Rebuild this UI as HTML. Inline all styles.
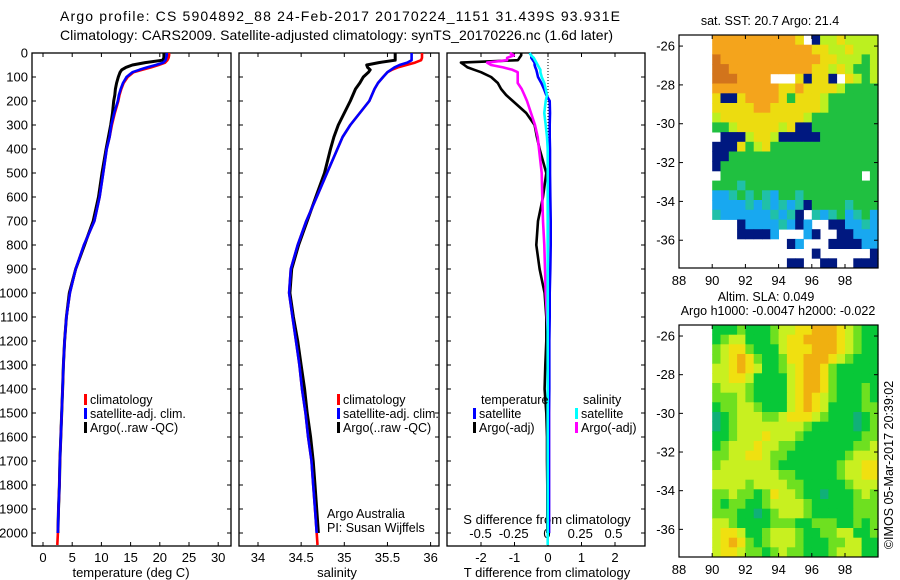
<!DOCTYPE html>
<html><head><meta charset="utf-8"><style>
html,body{margin:0;padding:0;background:#fff;}
svg{display:block;font-family:"Liberation Sans",sans-serif;}
</style></head><body>
<svg id="fig" width="900" height="580" viewBox="0 0 900 580" xmlns="http://www.w3.org/2000/svg">
<rect width="900" height="580" fill="#fff"/>
<text x="60" y="21" font-size="14" textLength="560" lengthAdjust="spacing">Argo profile: CS 5904892_88 24-Feb-2017 20170224_1151 31.439S 93.931E</text>
<text x="60" y="40" font-size="14" textLength="553" lengthAdjust="spacing">Climatology: CARS2009. Satellite-adjusted climatology: synTS_20170226.nc (1.6d later)</text>
<g id="layer"></g>
</svg>
<script>
// ---------- profile data ----------
const depths = [0,10,20,30,40,50,60,70,80,100,125,150,175,200,250,300,350,400,500,600,700,800,900,1000,1100,1200,1300,1400,1500,1600,1700,1800,1900,2000,2050];
const tempClim = [21.6,21.6,21.5,21.3,20.9,19.8,18.5,17,15.5,14.5,13.8,13.4,13.1,12.9,12.3,11.8,11.4,10.9,10.3,9.7,8.8,7.0,5.6,4.6,4.0,3.7,3.5,3.35,3.2,3.05,2.9,2.8,2.65,2.55,2.45];
const tempSat = [21.2,21.2,21.1,21.0,20.6,19.3,17.8,16.5,15.3,14.3,13.7,13.3,13.0,12.8,12.2,11.7,11.4,10.9,10.3,9.7,8.8,7.0,5.6,4.6,4.0,3.7,3.5,3.35,3.2,3.05,2.9,2.8,2.65,2.55,null];
const tempArgo = [20.7,20.7,20.7,20.5,17.5,15.3,14.2,13.5,13.2,12.9,12.6,12.4,12.3,12.1,11.9,11.6,11.2,10.8,10.1,9.5,8.6,7.1,5.6,4.5,4.0,3.7,3.5,3.35,3.2,3.05,2.9,2.8,2.65,2.55,null];
const salClim = [35.9,35.9,35.9,35.89,35.82,35.72,35.62,35.55,35.5,35.45,35.39,35.35,35.32,35.29,35.18,35.07,34.98,34.92,34.8,34.68,34.56,34.46,34.38,34.36,34.4,34.44,34.48,34.51,34.55,34.58,34.62,34.64,34.66,34.68,34.69];
const salSat = [35.78,35.78,35.78,35.78,35.73,35.64,35.58,35.54,35.5,35.45,35.39,35.35,35.32,35.29,35.18,35.07,34.98,34.92,34.8,34.68,34.56,34.46,34.38,34.36,34.4,34.44,34.48,34.51,34.55,34.58,34.62,34.64,34.66,34.68,null];
const salArgo = [35.59,35.59,35.59,35.59,35.4,35.26,35.27,35.3,35.28,35.22,35.18,35.13,35.1,35.07,35.0,34.93,34.88,34.84,34.77,34.67,34.57,34.47,34.39,34.37,34.41,34.46,34.5,34.54,34.57,34.61,34.64,34.66,34.68,34.7,null];
const dTArgo = [-0.8,-0.8,-0.85,-0.9,-2.6,-2.5,-2.4,-2.2,-2.0,-1.7,-1.5,-1.4,-1.25,-1.05,-0.65,-0.4,-0.33,-0.25,-0.05,-0.15,-0.3,-0.35,-0.25,-0.1,-0.05,-0.05,-0.08,-0.1,-0.05,-0.03,-0.03,-0.02,-0.02,-0.02,null];
const dSArgo = [-0.28,-0.25,-0.3,-0.3,-0.45,-0.42,-0.33,-0.26,-0.22,-0.22,-0.22,-0.19,-0.17,-0.15,-0.12,-0.09,-0.07,-0.06,-0.04,-0.035,-0.03,-0.02,-0.015,-0.01,0,0.01,0.015,0.015,0.015,0.015,0.015,0.015,0.015,0.015,null];
const dTSat = [-0.55,-0.5,-0.5,-0.45,-0.4,-0.4,-0.38,-0.35,-0.33,-0.3,-0.2,-0.12,-0.05,0.05,0.06,0.05,0.05,0.06,0.06,0.07,0.08,0.08,0.07,0.05,0.05,0.04,0.04,0.04,0.03,0.03,0.03,0.03,0.03,0.03,null];
const dSSat = [-0.13,-0.12,-0.1,-0.09,-0.08,-0.07,-0.06,-0.05,-0.05,-0.04,-0.02,-0.01,0,-0.01,-0.02,-0.01,0,0.005,0.005,0.005,0.005,0.005,0.005,0.005,0.005,0.005,0.005,0.005,0.005,0.005,0.005,0.005,0.005,0.005,0.005];
const depthTicks = [0,100,200,300,400,500,600,700,800,900,1000,1100,1200,1300,1400,1500,1600,1700,1800,1900,2000];
const tempTicks = [0,5,10,15,20,25,30];
const salTicks = [34,34.5,35,35.5,36];
const dTTicks = [-2,-1,0,1,2];
const dSTicks = [-0.5,-0.25,0,0.25,0.5];
// ---------- map data (0.5 deg cells, lon 90..100, lat -25.4..-37.4) ----------
const sstRows = [
"OOOOOOOOOOY nggYgggg","OOOOOOOOOOOOYYggYggg","oOOOOOOOOOOOOYYgggGg","ooOOOOOOOOOOYYgYgGGg",
"oooOOOO   YnYYn YgGg","OOOOOOOOYYOYYYYgGGGG","YnnYOOOOYGYYYgGGGGGG","YYYYYOOYYYYYYgGGGGGG",
"gYYYYYYYYYYgGGGGGGGG","GGgYYYYYgYnnGGGGGGGG"," nnngYYgnnnnnGGGGGGG","nnnYGgYGGGGGGGGGGGGG",
"nnGGGGGGGGGGGGGGGGGG","nGGGGGGGGGGGGGGGGGGG"," GGGGGGGGGGGGGGGGG G","GGGcGGGGGGGGGGGGGGGG",
"bbcGcGcbGGcGGGGGGGGG","bbbbcbcbcbcnGGGGcGGG","cbbbbbbcbcn cbcGbcGb","   nbbbbcbnb  nnbbcb",
"   nnnnb   bn  nnbbb","         nb   nnnnbb","            n      n","         nn  nn  nnn"];
const sstColors = {o:"#d2741c",O:"#f4a41c",Y:"#ecdc10",g:"#bcf020",G:"#20c040",c:"#20c0a8",b:"#18a8f0",n:"#001880"};
const slaRows = [
"GGGgGGGgyyYYOOOYygGG","GgyyGGGgyYYOOOOYygGG","gyYYgGGGyYYYOOOYygGG","gyYOYgGGgYYOOOYygGGG",
"yyYOYyGGgyYOOYgGGGGG","yyYYyGGGGyYOOYgGGGGG","gyyygGGGGyYOOYgGGGgG","gggygGGGGyYOYygGGGgG",
"GggyygGGGyYOYyGGGGgg","tGgyyyggyYYYygGGGtGg","tGgyyyyyyyygGGGGGtGg","GGgyyyYyyygGGGGGGGgg",
"GgyyyYyyggGGGGGGGggy","ggyyYYyggGGGGGGGgyyy","gyyyyyygGGGGGGGgyyYY","yyyyyyyyggGGGGGgyyYY",
"yyyygyyyyggGGGGGgyyy","ggyggGgYyygGGtGGGgyg","gGggGGgyyyygGGGGGggg","gggGGtGgyyygGGGGGggg",
"yygGGGGgggGGgggGGgGg","yYYyGGgyyygGGggyyGGg","yYOYgGgyyygGGGggyyGG","yYYyggGgyggGGGgyyyGG"];
const slaColors = {t:"#10b078",G:"#08c838",g:"#6ee020",y:"#c8f020",Y:"#f0e010",O:"#f0b010"};
const lonTicks = [88,90,92,94,96,98];
const latTicks = [-26,-28,-30,-32,-34,-36];

const NS="http://www.w3.org/2000/svg";
const L=document.getElementById('layer');
function mk(tag,attrs,parent,text){const e=document.createElementNS(NS,tag);for(const k in attrs)e.setAttribute(k,attrs[k]);if(text!==undefined)e.textContent=text;(parent||L).appendChild(e);return e;}

const yD = d => 53 + d*0.24;
const yTop=53,yBot=546;
const panels = {
 t:{x0:32,x1:231,f:v=>43+5.84*v},
 s:{x0:239,x1:439,f:v=>258+86.3*(v-34)},
 d:{x0:447,x1:645,f:v=>548+33.5*v},
};
const fS = v=>547+133*v;
const FS=13;

function frame(p,name){
 const r=mk('rect',{x:p.x0,y:yTop,width:p.x1-p.x0,height:yBot-yTop,fill:'none',stroke:'#000','stroke-width':1.3});
 
 
}
frame(panels.t,'temperature-panel-frame');
frame(panels.s,'salinity-panel-frame');
frame(panels.d,'difference-panel-frame');

depthTicks.forEach(d=>{
 const y=yD(d);
 const t=mk('text',{x:28,y:y+4.5,'font-size':FS,'text-anchor':'end'},L,String(d));
 
 
 [panels.t,panels.s,panels.d].forEach(p=>{
  mk('line',{x1:p.x0,x2:p.x0+4,y1:y,y2:y,stroke:'#000'});
  mk('line',{x1:p.x1,x2:p.x1-4,y1:y,y2:y,stroke:'#000'});
 });
});
function xticks(p,ticks,fmt){
 ticks.forEach(v=>{
  const x=p.f(v);
  mk('line',{x1:x,x2:x,y1:yBot,y2:yBot-4,stroke:'#000'});
  mk('line',{x1:x,x2:x,y1:yTop,y2:yTop+4,stroke:'#000'});
  const t=mk('text',{x:x,y:562,'font-size':FS,'text-anchor':'middle'},L,fmt(v));
  
  
 });
}
xticks(panels.t,tempTicks,v=>String(v));
xticks(panels.s,salTicks,v=>String(v));
xticks(panels.d,dTTicks,v=>String(v));
dSTicks.forEach(v=>{
 const t=mk('text',{x:fS(v),y:538,'font-size':FS,'text-anchor':'middle'},L,String(v));
 
 
});
[['temperature (deg C)',131,'temperature-axis-title'],['salinity',337,'salinity-axis-title'],['T difference from climatology',547,'t-diff-axis-title']].forEach(a=>{
 const t=mk('text',{x:a[1],y:577,'font-size':13,'text-anchor':'middle'},L,a[0]);
 
 
});
const sd=mk('text',{x:547,y:524,'font-size':13,'text-anchor':'middle'},L,'S difference from climatology');



const zl=mk('line',{x1:548,x2:548,y1:yTop,y2:yBot,stroke:'#000','stroke-dasharray':'1,2'});



function series(vals,f,color,name,w){
 let d='';let started=false;
 vals.forEach((v,i)=>{
  if(v===null||v===undefined){return;}
  const x=f(v).toFixed(1),y=yD(depths[i]).toFixed(1);
  d+=(started?'L':'M')+x+','+y+' ';started=true;
 });
 const p=mk('path',{d:d,fill:'none',stroke:color,'stroke-width':w||2.6,'stroke-linejoin':'round'});
 
 
}
series(tempArgo,panels.t.f,'#000','temperature-argo-line',3);
series(tempClim,panels.t.f,'#f00','temperature-climatology-line');
series(tempSat,panels.t.f,'#00f','temperature-satellite-line');
series(salArgo,panels.s.f,'#000','salinity-argo-line',3);
series(salClim,panels.s.f,'#f00','salinity-climatology-line');
series(salSat,panels.s.f,'#00f','salinity-satellite-line');
series(dTArgo,panels.d.f,'#000','t-diff-argo-line');
series(dSArgo,fS,'#f0f','s-diff-argo-line');
series(dTSat,panels.d.f,'#00f','t-diff-satellite-line');
series(dSSat,fS,'#0ff','s-diff-satellite-line');

function legend(x,y,color,label,name){
 const g=mk('g',{});
 
 
 mk('rect',{x:x,y:y-10,width:3,height:11,fill:color},g);
 mk('text',{x:x+6,y:y,'font-size':12.5},g,label);
}
legend(84,404,'#f00','climatology','legend-climatology');
legend(84,418,'#00f','satellite-adj. clim.','legend-satellite-adj');
legend(84,432,'#000','Argo(..raw -QC)','legend-argo');
legend(337,404,'#f00','climatology','legend-sal-climatology');
legend(337,418,'#00f','satellite-adj. clim.','legend-sal-satellite-adj');
legend(337,432,'#000','Argo(..raw -QC)','legend-sal-argo');
const lt=mk('text',{x:481,y:404,'font-size':12.5},L,'temperature');


const ls=mk('text',{x:583,y:404,'font-size':12.5},L,'salinity');


legend(473,418,'#00f','satellite','legend-t-satellite');
legend(473,432,'#000','Argo(-adj)','legend-t-argo');
legend(575,418,'#0ff','satellite','legend-s-satellite');
legend(575,432,'#f0f','Argo(-adj)','legend-s-argo');
const aa=mk('text',{x:327,y:518,'font-size':12.5},L,'Argo Australia');


const pi=mk('text',{x:327,y:532,'font-size':12.5},L,'PI: Susan Wijffels');



function map(rows,colors,y0,y1,name){
 const lonF=v=>679+16.6*(v-88);
 const latF=v=>y0+(-25.43-v)*(y1-y0)/12;
 const g=mk('g',{});
 
 
 rows.forEach((row,i)=>{
  for(let j=0;j<row.length;j++){
   const c=colors[row[j]]; if(!c) continue;
   const xa=lonF(90+j*0.5), xb=lonF(90+(j+1)*0.5);
   const ya=latF(-25.43-i*0.5), yb=latF(-25.43-(i+1)*0.5);
   const r=mk('rect',{x:xa.toFixed(1),y:ya.toFixed(1),width:(xb-xa+0.4).toFixed(1),height:(Math.min(yb,y1)-ya+0.4).toFixed(1),fill:c},g);
   
   
  }
 });
 mk('rect',{x:679,y:y0,width:199,height:y1-y0,fill:'none',stroke:'#000','stroke-width':1.2},g);
 lonTicks.forEach(v=>{
  const x=lonF(v);
  mk('line',{x1:x,x2:x,y1:y1,y2:y1-4,stroke:'#000'},g);
  mk('line',{x1:x,x2:x,y1:y0,y2:y0+4,stroke:'#000'},g);
  const t=mk('text',{x:x,y:y1+17,'font-size':FS,'text-anchor':'middle'},g,String(v));
  
  
 });
 latTicks.forEach(v=>{
  const y=latF(v);
  mk('line',{x1:679,x2:683,y1:y,y2:y,stroke:'#000'},g);
  mk('line',{x1:878,x2:874,y1:y,y2:y,stroke:'#000'},g);
  const t=mk('text',{x:675,y:y+4.5,'font-size':FS,'text-anchor':'end'},g,String(v));
  
  
 });
}
map(sstRows,sstColors,35,268,'sst-map');
map(slaRows,slaColors,325,557,'sla-map');
[['sat. SST: 20.7 Argo: 21.4',770,25,'sst-map-title'],['Altim. SLA: 0.049',766,301,'sla-map-title'],['Argo h1000: -0.0047 h2000: -0.022',778,315,'argo-height-title']].forEach(a=>{
 const t=mk('text',{x:a[1],y:a[2],'font-size':12.5,'text-anchor':'middle'},L,a[0]);
 
 
});
const im=mk('text',{x:0,y:0,'font-size':12.5,'text-anchor':'middle',transform:'translate(893,465) rotate(-90)'},L,'©IMOS 05-Mar-2017 20:39:02');


</script>
</body></html>
